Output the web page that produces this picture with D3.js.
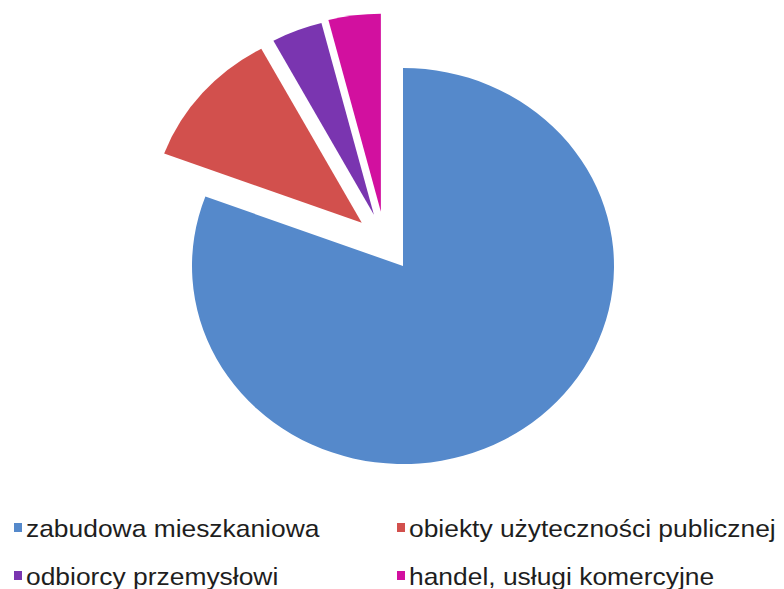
<!DOCTYPE html>
<html>
<head>
<meta charset="utf-8">
<script src="https://cdn.jsdelivr.net/npm/d3@7"></script>
<style>
  html, body { margin: 0; padding: 0; background: #ffffff; }
  svg { display: block; }
</style>
</head>
<body>
<svg id="chart" width="784" height="589"></svg>
<script>
// ---- data ----
const categories = [
  "zabudowa mieszkaniowa",
  "obiekty użyteczności publicznej",
  "odbiorcy przemysłowi",
  "handel, usługi komercyjne"
];
const shares = [80.7, 11.4, 3.9, 4.0];
const exploded = [false, true, true, true];
const colors = ["#5589CB", "#D2504D", "#7A35B0", "#D2109F"];

// ---- layout ----
const cx = 403, cy = 266, ry = 198, rx = 211;
const explodeDist = 58;

const svg = d3.select("#chart");
const g = svg.append("g")
  .attr("transform", `translate(${cx},${cy}) scale(${rx / ry},1)`);

const pie = d3.pie().sort(null).value(d => d.v);
const arcs = pie(categories.map((c, i) => ({ c, v: shares[i], ex: exploded[i], col: colors[i] })));
const arc = d3.arc().innerRadius(0).outerRadius(ry);

// bisector of the whole exploded group
const exArcs = arcs.filter(a => a.data.ex);
const groupMid = exArcs.length ? (exArcs[0].startAngle + exArcs[exArcs.length - 1].endAngle) / 2 : 0;

g.selectAll("path.slice")
  .data(arcs)
  .join("path")
  .attr("class", "slice")
  .attr("d", arc)
  .attr("fill", d => d.data.col)
  .attr("transform", d => {
    if (!d.data.ex) return null;
    const own = (d.startAngle + d.endAngle) / 2;
    const a = (own + groupMid) / 2;
    return `translate(${Math.sin(a) * explodeDist},${-Math.cos(a) * explodeDist})`;
  });

// ---- legend ----
const legX = d3.scalePoint().domain([0, 1]).range([14, 397]);
const legY = d3.scalePoint().domain([0, 1]).range([528, 576]);
const leg = svg.append("g").selectAll("g.item")
  .data(categories)
  .join("g")
  .attr("class", "item")
  .attr("transform", (d, i) => `translate(${legX(i % 2)},${legY(Math.floor(i / 2))})`);
leg.append("rect")
  .attr("x", 0).attr("y", -5).attr("width", 8).attr("height", 9)
  .attr("fill", (d, i) => colors[i]);
leg.append("text")
  .attr("transform", "translate(12,0) scale(1.1,1)")
  .attr("dy", "0.36em")
  .attr("font-family", "'Liberation Sans', Arial, sans-serif")
  .attr("font-size", 24)
  .attr("fill", "#1e1e1e")
  .text(d => d);
</script>
</body>
</html>
